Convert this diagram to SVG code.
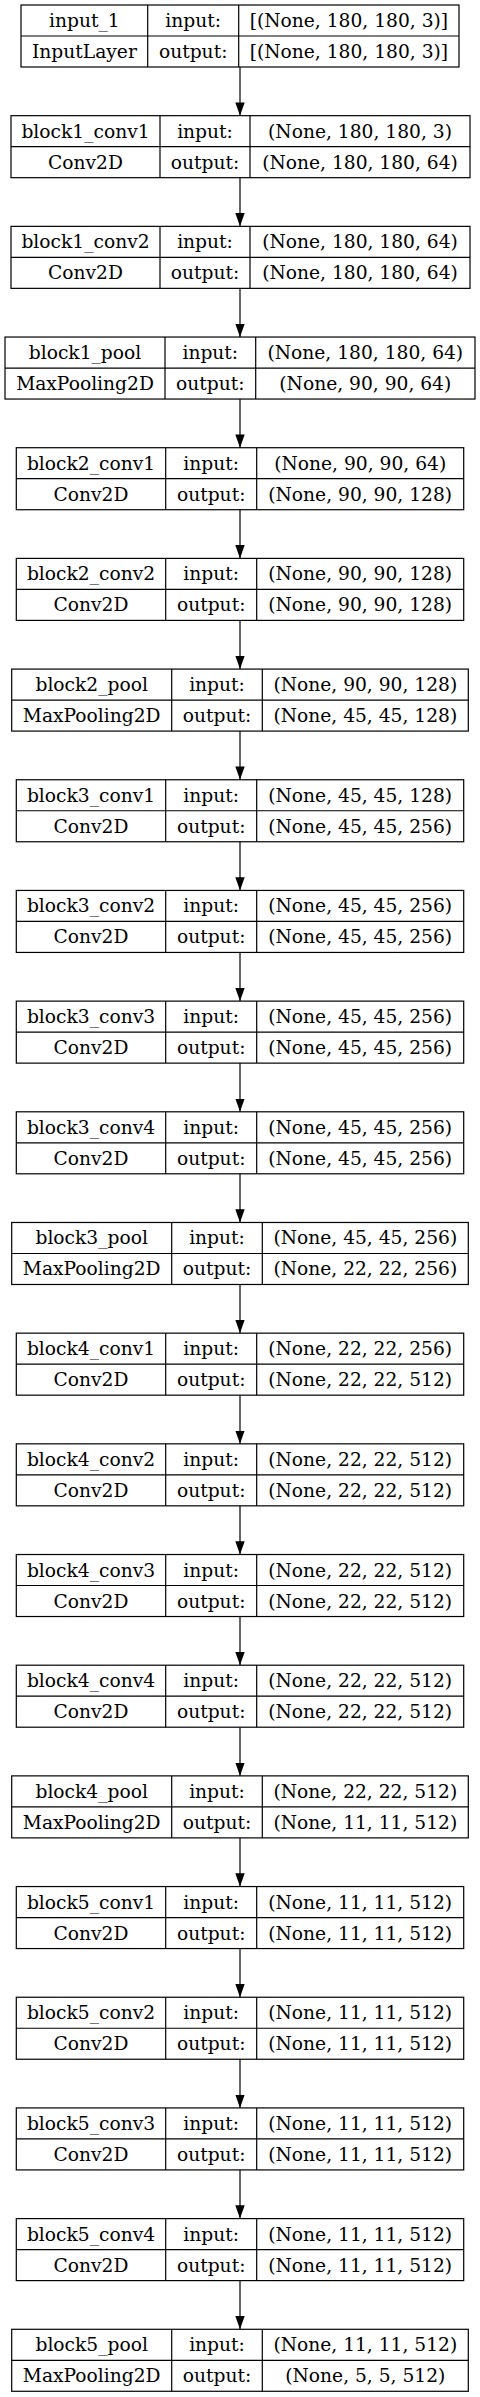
<svg xmlns="http://www.w3.org/2000/svg" width="480" height="2397" viewBox="0 0 480 2397">
<style>
.bx{fill:#fff;stroke:#000;stroke-width:1.2}
.ln{stroke:#000;stroke-width:1.2;fill:none}
text{font-family:"DejaVu Serif","Liberation Serif",serif;font-size:18.67px;fill:#000;text-anchor:middle}
.e{stroke:#000;stroke-width:1.2;fill:none;marker-end:url(#ah)}
</style>
<defs>
<marker id="ah" viewBox="0 0 13.3 9.4" refX="13.3" refY="4.7" markerWidth="13.3" markerHeight="9.4" markerUnits="userSpaceOnUse" orient="auto">
<path d="M0,0 L13.3,4.7 L0,9.4 z" fill="#000"/>
</marker>
</defs>
<rect width="480" height="2397" fill="#fff"/>
<g id="edges">
<path class="e" d="M240,67 V115.68"/>
<path class="e" d="M240,177.68 V226.36"/>
<path class="e" d="M240,288.36 V337.04"/>
<path class="e" d="M240,399.04 V447.72"/>
<path class="e" d="M240,509.72 V558.4"/>
<path class="e" d="M240,620.4 V669.08"/>
<path class="e" d="M240,731.08 V779.76"/>
<path class="e" d="M240,841.76 V890.44"/>
<path class="e" d="M240,952.44 V1001.12"/>
<path class="e" d="M240,1063.12 V1111.8"/>
<path class="e" d="M240,1173.8 V1222.48"/>
<path class="e" d="M240,1284.48 V1333.16"/>
<path class="e" d="M240,1395.16 V1443.84"/>
<path class="e" d="M240,1505.84 V1554.52"/>
<path class="e" d="M240,1616.52 V1665.2"/>
<path class="e" d="M240,1727.2 V1775.88"/>
<path class="e" d="M240,1837.88 V1886.56"/>
<path class="e" d="M240,1948.56 V1997.24"/>
<path class="e" d="M240,2059.24 V2107.92"/>
<path class="e" d="M240,2169.92 V2218.6"/>
<path class="e" d="M240,2280.6 V2329.28"/>
</g>

<g id="input_1" transform="translate(0,5)">
<rect class="bx" x="21" y="0" width="438" height="62"/>
<path class="ln" d="M21,31 H459 M147.7,0 V62 M238.7,0 V62"/>
<text x="84.4" y="22">input_1</text><text x="193.2" y="22">input:</text><text x="348.9" y="22">[(None, 180, 180, 3)]</text>
<text x="84.4" y="53">InputLayer</text><text x="193.2" y="53">output:</text><text x="348.9" y="53">[(None, 180, 180, 3)]</text>
</g>

<g id="block1_conv1" transform="translate(0,115.68)">
<rect class="bx" x="11" y="0" width="459" height="62"/>
<path class="ln" d="M11,31 H470 M160,0 V62 M250,0 V62"/>
<text x="85.5" y="22">block1_conv1</text><text x="205" y="22">input:</text><text x="360" y="22">(None, 180, 180, 3)</text>
<text x="85.5" y="53">Conv2D</text><text x="205" y="53">output:</text><text x="360" y="53">(None, 180, 180, 64)</text>
</g>

<g id="block1_conv2" transform="translate(0,226.36)">
<rect class="bx" x="11" y="0" width="459" height="62"/>
<path class="ln" d="M11,31 H470 M160,0 V62 M250,0 V62"/>
<text x="85.5" y="22">block1_conv2</text><text x="205" y="22">input:</text><text x="360" y="22">(None, 180, 180, 64)</text>
<text x="85.5" y="53">Conv2D</text><text x="205" y="53">output:</text><text x="360" y="53">(None, 180, 180, 64)</text>
</g>

<g id="block1_pool" transform="translate(0,337.04)">
<rect class="bx" x="5" y="0" width="470" height="62"/>
<path class="ln" d="M5,31 H475 M165,0 V62 M255.7,0 V62"/>
<text x="85" y="22">block1_pool</text><text x="210.3" y="22">input:</text><text x="365.3" y="22">(None, 180, 180, 64)</text>
<text x="85" y="53">MaxPooling2D</text><text x="210.3" y="53">output:</text><text x="365.3" y="53">(None, 90, 90, 64)</text>
</g>

<g id="block2_conv1" transform="translate(0,447.72)">
<rect class="bx" x="16.3" y="0" width="447.4" height="62"/>
<path class="ln" d="M16.3,31 H463.7 M165.7,0 V62 M256.7,0 V62"/>
<text x="91" y="22">block2_conv1</text><text x="211.2" y="22">input:</text><text x="360.2" y="22">(None, 90, 90, 64)</text>
<text x="91" y="53">Conv2D</text><text x="211.2" y="53">output:</text><text x="360.2" y="53">(None, 90, 90, 128)</text>
</g>

<g id="block2_conv2" transform="translate(0,558.4)">
<rect class="bx" x="16.3" y="0" width="447.4" height="62"/>
<path class="ln" d="M16.3,31 H463.7 M165.7,0 V62 M256.7,0 V62"/>
<text x="91" y="22">block2_conv2</text><text x="211.2" y="22">input:</text><text x="360.2" y="22">(None, 90, 90, 128)</text>
<text x="91" y="53">Conv2D</text><text x="211.2" y="53">output:</text><text x="360.2" y="53">(None, 90, 90, 128)</text>
</g>

<g id="block2_pool" transform="translate(0,669.08)">
<rect class="bx" x="11.7" y="0" width="456.6" height="62"/>
<path class="ln" d="M11.7,31 H468.3 M171.7,0 V62 M262.3,0 V62"/>
<text x="91.7" y="22">block2_pool</text><text x="217" y="22">input:</text><text x="365.3" y="22">(None, 90, 90, 128)</text>
<text x="91.7" y="53">MaxPooling2D</text><text x="217" y="53">output:</text><text x="365.3" y="53">(None, 45, 45, 128)</text>
</g>

<g id="block3_conv1" transform="translate(0,779.76)">
<rect class="bx" x="16.3" y="0" width="447.4" height="62"/>
<path class="ln" d="M16.3,31 H463.7 M165.7,0 V62 M256.7,0 V62"/>
<text x="91" y="22">block3_conv1</text><text x="211.2" y="22">input:</text><text x="360.2" y="22">(None, 45, 45, 128)</text>
<text x="91" y="53">Conv2D</text><text x="211.2" y="53">output:</text><text x="360.2" y="53">(None, 45, 45, 256)</text>
</g>

<g id="block3_conv2" transform="translate(0,890.44)">
<rect class="bx" x="16.3" y="0" width="447.4" height="62"/>
<path class="ln" d="M16.3,31 H463.7 M165.7,0 V62 M256.7,0 V62"/>
<text x="91" y="22">block3_conv2</text><text x="211.2" y="22">input:</text><text x="360.2" y="22">(None, 45, 45, 256)</text>
<text x="91" y="53">Conv2D</text><text x="211.2" y="53">output:</text><text x="360.2" y="53">(None, 45, 45, 256)</text>
</g>

<g id="block3_conv3" transform="translate(0,1001.12)">
<rect class="bx" x="16.3" y="0" width="447.4" height="62"/>
<path class="ln" d="M16.3,31 H463.7 M165.7,0 V62 M256.7,0 V62"/>
<text x="91" y="22">block3_conv3</text><text x="211.2" y="22">input:</text><text x="360.2" y="22">(None, 45, 45, 256)</text>
<text x="91" y="53">Conv2D</text><text x="211.2" y="53">output:</text><text x="360.2" y="53">(None, 45, 45, 256)</text>
</g>

<g id="block3_conv4" transform="translate(0,1111.8)">
<rect class="bx" x="16.3" y="0" width="447.4" height="62"/>
<path class="ln" d="M16.3,31 H463.7 M165.7,0 V62 M256.7,0 V62"/>
<text x="91" y="22">block3_conv4</text><text x="211.2" y="22">input:</text><text x="360.2" y="22">(None, 45, 45, 256)</text>
<text x="91" y="53">Conv2D</text><text x="211.2" y="53">output:</text><text x="360.2" y="53">(None, 45, 45, 256)</text>
</g>

<g id="block3_pool" transform="translate(0,1222.48)">
<rect class="bx" x="11.7" y="0" width="456.6" height="62"/>
<path class="ln" d="M11.7,31 H468.3 M171.7,0 V62 M262.3,0 V62"/>
<text x="91.7" y="22">block3_pool</text><text x="217" y="22">input:</text><text x="365.3" y="22">(None, 45, 45, 256)</text>
<text x="91.7" y="53">MaxPooling2D</text><text x="217" y="53">output:</text><text x="365.3" y="53">(None, 22, 22, 256)</text>
</g>

<g id="block4_conv1" transform="translate(0,1333.16)">
<rect class="bx" x="16.3" y="0" width="447.4" height="62"/>
<path class="ln" d="M16.3,31 H463.7 M165.7,0 V62 M256.7,0 V62"/>
<text x="91" y="22">block4_conv1</text><text x="211.2" y="22">input:</text><text x="360.2" y="22">(None, 22, 22, 256)</text>
<text x="91" y="53">Conv2D</text><text x="211.2" y="53">output:</text><text x="360.2" y="53">(None, 22, 22, 512)</text>
</g>

<g id="block4_conv2" transform="translate(0,1443.84)">
<rect class="bx" x="16.3" y="0" width="447.4" height="62"/>
<path class="ln" d="M16.3,31 H463.7 M165.7,0 V62 M256.7,0 V62"/>
<text x="91" y="22">block4_conv2</text><text x="211.2" y="22">input:</text><text x="360.2" y="22">(None, 22, 22, 512)</text>
<text x="91" y="53">Conv2D</text><text x="211.2" y="53">output:</text><text x="360.2" y="53">(None, 22, 22, 512)</text>
</g>

<g id="block4_conv3" transform="translate(0,1554.52)">
<rect class="bx" x="16.3" y="0" width="447.4" height="62"/>
<path class="ln" d="M16.3,31 H463.7 M165.7,0 V62 M256.7,0 V62"/>
<text x="91" y="22">block4_conv3</text><text x="211.2" y="22">input:</text><text x="360.2" y="22">(None, 22, 22, 512)</text>
<text x="91" y="53">Conv2D</text><text x="211.2" y="53">output:</text><text x="360.2" y="53">(None, 22, 22, 512)</text>
</g>

<g id="block4_conv4" transform="translate(0,1665.2)">
<rect class="bx" x="16.3" y="0" width="447.4" height="62"/>
<path class="ln" d="M16.3,31 H463.7 M165.7,0 V62 M256.7,0 V62"/>
<text x="91" y="22">block4_conv4</text><text x="211.2" y="22">input:</text><text x="360.2" y="22">(None, 22, 22, 512)</text>
<text x="91" y="53">Conv2D</text><text x="211.2" y="53">output:</text><text x="360.2" y="53">(None, 22, 22, 512)</text>
</g>

<g id="block4_pool" transform="translate(0,1775.88)">
<rect class="bx" x="11.7" y="0" width="456.6" height="62"/>
<path class="ln" d="M11.7,31 H468.3 M171.7,0 V62 M262.3,0 V62"/>
<text x="91.7" y="22">block4_pool</text><text x="217" y="22">input:</text><text x="365.3" y="22">(None, 22, 22, 512)</text>
<text x="91.7" y="53">MaxPooling2D</text><text x="217" y="53">output:</text><text x="365.3" y="53">(None, 11, 11, 512)</text>
</g>

<g id="block5_conv1" transform="translate(0,1886.56)">
<rect class="bx" x="16.3" y="0" width="447.4" height="62"/>
<path class="ln" d="M16.3,31 H463.7 M165.7,0 V62 M256.7,0 V62"/>
<text x="91" y="22">block5_conv1</text><text x="211.2" y="22">input:</text><text x="360.2" y="22">(None, 11, 11, 512)</text>
<text x="91" y="53">Conv2D</text><text x="211.2" y="53">output:</text><text x="360.2" y="53">(None, 11, 11, 512)</text>
</g>

<g id="block5_conv2" transform="translate(0,1997.24)">
<rect class="bx" x="16.3" y="0" width="447.4" height="62"/>
<path class="ln" d="M16.3,31 H463.7 M165.7,0 V62 M256.7,0 V62"/>
<text x="91" y="22">block5_conv2</text><text x="211.2" y="22">input:</text><text x="360.2" y="22">(None, 11, 11, 512)</text>
<text x="91" y="53">Conv2D</text><text x="211.2" y="53">output:</text><text x="360.2" y="53">(None, 11, 11, 512)</text>
</g>

<g id="block5_conv3" transform="translate(0,2107.92)">
<rect class="bx" x="16.3" y="0" width="447.4" height="62"/>
<path class="ln" d="M16.3,31 H463.7 M165.7,0 V62 M256.7,0 V62"/>
<text x="91" y="22">block5_conv3</text><text x="211.2" y="22">input:</text><text x="360.2" y="22">(None, 11, 11, 512)</text>
<text x="91" y="53">Conv2D</text><text x="211.2" y="53">output:</text><text x="360.2" y="53">(None, 11, 11, 512)</text>
</g>

<g id="block5_conv4" transform="translate(0,2218.6)">
<rect class="bx" x="16.3" y="0" width="447.4" height="62"/>
<path class="ln" d="M16.3,31 H463.7 M165.7,0 V62 M256.7,0 V62"/>
<text x="91" y="22">block5_conv4</text><text x="211.2" y="22">input:</text><text x="360.2" y="22">(None, 11, 11, 512)</text>
<text x="91" y="53">Conv2D</text><text x="211.2" y="53">output:</text><text x="360.2" y="53">(None, 11, 11, 512)</text>
</g>

<g id="block5_pool" transform="translate(0,2329.28)">
<rect class="bx" x="11.7" y="0" width="456.6" height="62"/>
<path class="ln" d="M11.7,31 H468.3 M171.7,0 V62 M262.3,0 V62"/>
<text x="91.7" y="22">block5_pool</text><text x="217" y="22">input:</text><text x="365.3" y="22">(None, 11, 11, 512)</text>
<text x="91.7" y="53">MaxPooling2D</text><text x="217" y="53">output:</text><text x="365.3" y="53">(None, 5, 5, 512)</text>
</g>
</svg>
